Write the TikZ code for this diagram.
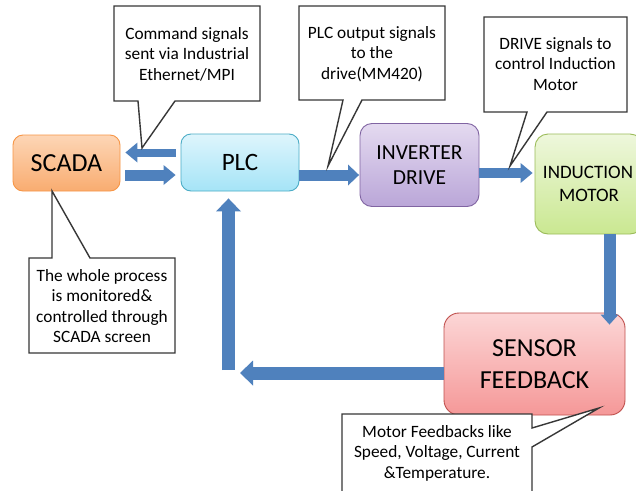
\documentclass[tikz,border=0pt]{standalone}
\usepackage{fontspec}
\setmainfont{Carlito}
\usetikzlibrary{arrows.meta,calc}
\definecolor{arrowblue}{RGB}{79,129,189}
\definecolor{calloutline}{RGB}{55,55,55}
\definecolor{scadatop}{RGB}{253,214,182}
\definecolor{scadabot}{RGB}{249,172,112}
\definecolor{scadaedge}{RGB}{247,150,70}
\definecolor{plctop}{RGB}{222,245,252}
\definecolor{plcbot}{RGB}{165,228,247}
\definecolor{plcedge}{RGB}{75,172,198}
\definecolor{invtop}{RGB}{228,218,240}
\definecolor{invbot}{RGB}{186,166,216}
\definecolor{invedge}{RGB}{128,100,162}
\definecolor{imtop}{RGB}{238,247,220}
\definecolor{imbot}{RGB}{202,232,145}
\definecolor{imedge}{RGB}{155,187,89}
\definecolor{sentop}{RGB}{252,214,214}
\definecolor{senbot}{RGB}{245,152,152}
\definecolor{senedge}{RGB}{192,80,77}
\begin{document}
\begin{tikzpicture}[x=1pt,y=-1pt,
  box/.style={rounded corners=10pt, line width=0.9pt, align=center, inner sep=0pt, text=black},
  blkarrow/.style args={#1/#2/#3}{draw=arrowblue, line width=#1pt,
     -{Triangle[length=#2pt,width=#3pt,line width=0pt]}},
  callout/.style={draw=calloutline, fill=white, line width=1.4pt, line join=miter},
  callouttext/.style={align=center, font=\fontsize{17.3}{20.5}\selectfont, text=black, inner sep=0pt}]
\useasboundingbox (0,0) rectangle (636,490);
\fill[white] (0,0) rectangle (636,490);

% blocks
\node[box, minimum width=107pt, minimum height=56pt, top color=scadatop, bottom color=scadabot, draw=scadaedge,
      font=\fontsize{26}{30}\selectfont] (scada) at (66.5,163) {SCADA};
\node[box, minimum width=118pt, minimum height=57pt, top color=plctop, bottom color=plcbot, draw=plcedge,
      font=\fontsize{25}{30}\selectfont] (plc) at (240,162.5) {PLC};
\node[box, rounded corners=12pt, minimum width=119pt, minimum height=83pt, top color=invtop, bottom color=invbot, draw=invedge,
      font=\fontsize{21.5}{25}\selectfont] (inv) at (419.5,165) {INVERTER\\DRIVE};
\node[box, rounded corners=13pt, minimum width=108pt, minimum height=100pt, top color=imtop, bottom color=imbot, draw=imedge,
      font=\fontsize{19}{22.7}\selectfont, text width=108pt] (im) at (589,184) {\hspace*{-2pt}INDUCTION\\MOTOR};
\node[box, rounded corners=15pt, minimum width=181pt, minimum height=102pt, top color=sentop, bottom color=senbot, draw=senedge,
      font=\fontsize{26}{32}\selectfont] (sensor) at (534.5,364) {SENSOR\\FEEDBACK};

% connector coordinates
\coordinate (upA) at ([yshift=10pt]plc.west);
\coordinate (loA) at ([yshift=-12pt]scada.east);
\coordinate (pA) at ([yshift=-12.5pt]plc.east);
\coordinate (iA) at ([yshift=-8pt]inv.east);
\coordinate (mA) at ([xshift=20.5pt]im.south);
\coordinate (fbstart) at ([yshift=-9pt]sensor.west);
\coordinate (corner) at (228.5,370);

% block arrows
\draw[blkarrow=8/12/20, shorten <=5pt, shorten >=5pt] (upA) -- (upA -| scada.east);
\draw[blkarrow=11/12/20, shorten <=5pt, shorten >=5pt] (loA) -- (loA -| plc.west);
\draw[blkarrow=11/11/21, shorten >=0.5pt] (pA) -- (pA -| inv.west);
\draw[blkarrow=10/12/20, shorten >=2pt] (iA) -- (iA -| im.west);
\draw[blkarrow=12/10/18, shorten >=-12pt] (mA) -- (mA |- sensor.north);
\draw[blkarrow=13/13/25, shorten >=11.5pt] (fbstart) -- (fbstart -| corner);
\draw[blkarrow=13/13/25, shorten >=7pt] (corner) -- (corner |- plc.south);

% callouts
\draw[callout] (114,6) -- (260,6) -- (260,101) -- (175,101) -- (142,148) -- (138,101) -- (114,101) -- cycle;
\node[callouttext] (c1) at (187,54) {Command signals\\sent via Industrial\\Ethernet/MPI};

\draw[callout] (299,6) -- (445,6) -- (445,100) -- (362,100) -- (328,166) -- (343,100) -- (299,100) -- cycle;
\node[callouttext] (c2) at (372,54) {PLC output signals\\to the\\drive(MM420)};

\draw[callout] (484,17) -- (627,17) -- (627,112) -- (547,112) -- (510,166) -- (527,112) -- (484,112) -- cycle;
\node[callouttext] (c3) at (555.5,64) {DRIVE signals to\\control Induction\\Motor};

\draw[callout] (29,258) -- (52,258) -- (52,191) -- (90,258) -- (175,258) -- (175,353) -- (29,353) -- cycle;
\node[callouttext] (c4) at (102,306) {The whole process\\is monitored\&\\controlled through\\SCADA screen};

\draw[callout] (342,500) -- (342,414) -- (532,414) -- (532,428) -- (599,408) -- (532,447) -- (532,500) -- cycle;
\node[callouttext] (c5) at (437,453) {Motor Feedbacks like\\Speed, Voltage, Current\\\&Temperature.};
\end{tikzpicture}
\end{document}
